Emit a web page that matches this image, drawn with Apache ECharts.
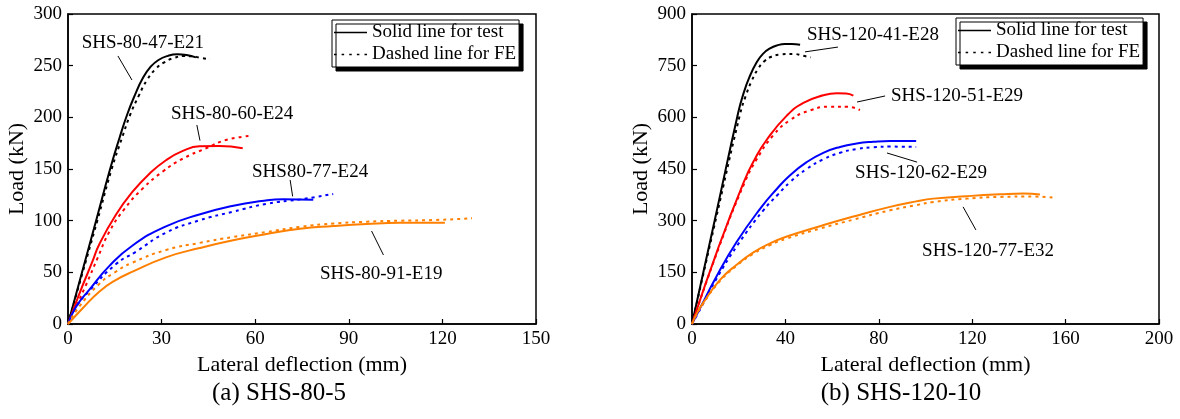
<!DOCTYPE html>
<html>
<head>
<meta charset="utf-8">
<script src="https://cdn.jsdelivr.net/npm/echarts@6/dist/echarts.min.js"></script>
<style>
html,body{margin:0;padding:0;background:#fff;}
#chart{width:1180px;height:419px;}
</style>
</head>
<body>
<div id="chart"></div>
<script>
// ---------- Data: (a) SHS-80-5 ----------
const xTicksA = [0, 30, 60, 90, 120, 150];
const yTicksA = [0, 50, 100, 150, 200, 250, 300];
const a47Test = [[0,0],[4.5,50],[9,100],[13.5,150],[16.5,180],[19,203],[21.5,222],[24,238],[26.5,249],[29,255.5],[32,259.5],[35,261],[38,260.3],[41,258]];
const a47FE   = [[0,0],[4.7,50],[9.4,100],[14,150],[17.3,180],[20,203],[22.7,221],[25.3,236],[28,246.5],[31,253.5],[34,257.5],[37,259.3],[40,259],[42.5,257.5],[45.5,256.4]];
const a60Test = [[0,0],[3.6,29],[7.9,61],[10,77],[15.4,106],[20.7,128],[26.1,145.5],[31.4,158.5],[36.8,167.5],[42.1,172],[48.5,172.3],[56,170]];
const a60FE   = [[0,0],[5.8,38],[9.5,64],[13.2,89],[18,111],[23.9,131],[30.3,147.4],[36.8,160],[44.2,170],[50.6,178],[58.1,181.9]];
const a77Test = [[0,0],[2.6,16.8],[6.8,33],[13.2,56],[20.7,76],[31.4,94.5],[42.1,106],[53,114.5],[62,119],[69,120.8],[78.6,120.3]];
const a77FE   = [[0,0],[2.6,16.5],[6.8,32],[15.4,58],[21.8,70],[31.4,88.4],[42.1,100.3],[52.9,108.7],[63.6,116.3],[74.4,120.6],[85,125.8]];
const a91Test = [[0,0],[4.7,15.2],[10,31.3],[15,42],[20.7,50.6],[31.4,64.5],[42.2,73.5],[52.9,81],[63.6,87],[74.4,92.2],[85,94.8],[95.7,96.8],[106.4,98],[120.8,98.1]];
const a91FE   = [[0,0],[3.6,16.8],[10,38.7],[15,50],[20.7,59.4],[31.4,71.6],[42.2,78.5],[52.9,84.2],[63.6,89],[74.4,94],[85,97.2],[95.7,99],[106.4,100],[117.1,100.6],[129.5,102.3]];

// ---------- Data: (b) SHS-120-10 ----------
const xTicksB = [0, 40, 80, 120, 160, 200];
const yTicksB = [0, 150, 300, 450, 600, 750, 900];
const b41Test = [[0,0],[9.85,305],[19.8,614],[22,668],[24.5,715],[27.7,760],[30.5,785],[33.4,800],[36.5,809],[39.8,813],[42.7,813],[46.3,811]];
const b41FE   = [[0,0],[10.2,304],[20.6,610],[23,662],[25.5,705],[28.4,742],[31,763],[34,776],[37.7,782],[43.4,784],[47.5,779],[50.8,774]];
const b51Test = [[0,0],[11.3,222],[22.3,414],[27,480],[32,535],[40.6,605],[47.7,642],[56.2,664],[62,670],[66,669],[69.1,663]];
const b51FE   = [[0,0],[11.5,222],[22.5,410],[27.7,478],[34.8,548],[42,592],[50.5,620],[59.1,631],[66.3,631],[71.9,621]];
const b62Test = [[0,0],[4.15,55],[9.85,130],[19.1,238],[29.8,340],[36.3,392],[42,432],[49.1,470],[56.2,497],[63.4,514],[70.5,524],[77.6,529],[84.8,531.5],[96,531]];
const b62FE   = [[0,0],[4.3,53],[10.2,128],[19.6,230],[30.3,328],[36.8,376],[42,412],[49.1,450],[56.2,478],[63.4,497],[70.5,508],[77.6,513],[84.8,515],[96,514]];
const b77Test = [[0,0],[2,30],[4.85,62],[12,128],[19.1,172],[26.3,208],[33.4,234],[40.6,254],[54.8,284],[69.1,312],[84.8,340],[96,356],[103.3,364],[117.6,371],[131.9,376.5],[141.9,379],[149,376]];
const b77FE   = [[0,0],[2,28],[4.85,60],[12,125],[19.1,169],[26.3,204],[33.4,229],[40.6,248],[54.8,277],[69.1,303],[84.8,330],[96,345],[103.3,354],[117.6,364],[131.9,369],[146.2,370],[154.7,367]];

// ---------- Annotations (data coordinates) ----------
const annA = [
  {text:'SHS-80-47-E21', at:[24.0,271.9], from:[16.0,259.4], to:[20.5,236.1], s:'a47'},
  {text:'SHS-80-60-E24', at:[52.6,203.2], from:[41.3,192.6], to:[42.3,177.5], s:'a60'},
  {text:'SHS80-77-E24',  at:[77.6,147.1], from:[71.2,139.4], to:[72.0,123.5], s:'a77'},
  {text:'SHS-80-91-E19', at:[100.4,48.4], from:[101.1,66.8], to:[97.3,90.0], s:'a91'}
];
const annB = [
  {text:'SHS-120-41-E28', at:[77.5,839], from:[62.5,804], to:[48.4,790], s:'b41'},
  {text:'SHS-120-51-E29', at:[113.5,662], from:[82.7,662], to:[70.7,644.5], s:'b51'},
  {text:'SHS-120-62-E29', at:[98.1,438], from:[96.4,470], to:[83.5,496.5], s:'b62'},
  {text:'SHS-120-77-E32', at:[126.8,212], from:[121.6,273], to:[116.1,340], s:'b77'}
];

const legendNames = ['Solid line for test', 'Dashed line for FE'];
const captions = ['(a) SHS-80-5', '(b) SHS-120-10'];

const SERIF = '"Liberation Serif", "Times New Roman", serif';
const DASH = [3, 4];
const ORANGE = '#ff8000';
const ICON_SOLID = 'path://M0,0H33V1.5H0Z';
const ICON_DOT = 'path://M0,0h2.5v1.5h-2.5z M7.6,0h2.5v1.5h-2.5z M15.2,0h2.5v1.5h-2.5z M22.8,0h2.5v1.5h-2.5z M30.4,0h2.5v1.5h-2.5z';

function axisCommon(min, max, interval, gridIndex, isX) {
  const o = {
    type: 'value', gridIndex, min, max, interval,
    axisLine: {show: true, onZero: false, lineStyle: {color: '#000', width: 1.5}},
    axisTick: {show: true, inside: true, length: 5, lineStyle: {color: '#000', width: 1.2}},
    axisLabel: {color: '#000', fontFamily: SERIF, fontSize: 19, margin: 6},
    splitLine: {show: false},
    nameLocation: 'middle',
    nameTextStyle: {color: '#000', fontFamily: SERIF, fontSize: 22}
  };
  if (isX) { o.name = 'Lateral deflection (mm)'; o.nameGap = 25; }
  else { o.name = 'Load (kN)'; o.nameGap = 40; }
  return o;
}

function curve(name, data, color, dashed, gi) {
  return {
    type: 'line', name, data, xAxisIndex: gi, yAxisIndex: gi,
    symbol: 'none', showSymbol: false, smooth: 0.5, silent: true,
    lineStyle: {color, width: 2, type: dashed ? DASH : 'solid'},
    z: 3
  };
}

function annSeries(list, gi) {
  return list.map(a => ({
    type: 'line', name: 'ann-' + a.s, data: [], xAxisIndex: gi, yAxisIndex: gi,
    symbol: 'none', silent: true,
    markLine: {
      silent: true, symbol: ['none', 'arrow'], symbolSize: [0, 9], animation: false,
      lineStyle: {color: '#000', width: 1, type: 'solid'},
      label: {show: false},
      data: [[{coord: a.from}, {coord: a.to}]]
    },
    markPoint: {
      silent: true, symbol: 'circle', symbolSize: 1, animation: false,
      itemStyle: {color: 'rgba(0,0,0,0)'},
      label: {show: true, position: 'inside', color: '#000', fontFamily: SERIF, fontSize: 19, formatter: a.text},
      data: [{coord: a.at}]
    }
  }));
}

function legendBox(left, top) {
  return {
    data: [{name: legendNames[0], icon: ICON_SOLID}, {name: legendNames[1], icon: ICON_DOT}],
    orient: 'vertical', left, top,
    itemWidth: 33, itemHeight: 14, itemGap: 3,
    padding: [3, 3, 3, 2],
    backgroundColor: '#fff', borderColor: '#000', borderWidth: 1, borderRadius: 0,
    shadowColor: '#000', shadowOffsetX: 4, shadowOffsetY: 4, shadowBlur: 0,
    selectedMode: false,
    itemStyle: {color: '#000', borderWidth: 0},
    textStyle: {color: '#000', fontFamily: SERIF, fontSize: 19}
  };
}

const option = {
  animation: false,
  backgroundColor: '#fff',
  grid: [
    {left: 68, top: 14, width: 468, height: 310, show: true, borderColor: '#000', borderWidth: 1.5, backgroundColor: 'transparent'},
    {left: 692, top: 14, width: 467, height: 310, show: true, borderColor: '#000', borderWidth: 1.5, backgroundColor: 'transparent'}
  ],
  xAxis: [axisCommon(xTicksA[0], xTicksA[xTicksA.length-1], xTicksA[1]-xTicksA[0], 0, true),
          axisCommon(xTicksB[0], xTicksB[xTicksB.length-1], xTicksB[1]-xTicksB[0], 1, true)],
  yAxis: [axisCommon(yTicksA[0], yTicksA[yTicksA.length-1], yTicksA[1]-yTicksA[0], 0, false),
          axisCommon(yTicksB[0], yTicksB[yTicksB.length-1], yTicksB[1]-yTicksB[0], 1, false)],
  legend: [legendBox(332, 20), legendBox(956, 18)],
  graphic: [
    {type: 'text', x: 279, y: 393, style: {text: captions[0], fill: '#000', font: '25px ' + SERIF, textAlign: 'center', textVerticalAlign: 'middle'}},
    {type: 'text', x: 901, y: 393, style: {text: captions[1], fill: '#000', font: '25px ' + SERIF, textAlign: 'center', textVerticalAlign: 'middle'}}
  ],
  series: [
    {type: 'line', name: legendNames[0], data: [], xAxisIndex: 0, yAxisIndex: 0, symbol: 'none', lineStyle: {color: '#000', width: 1.5, type: 'solid'}, itemStyle: {color: '#000'}},
    {type: 'line', name: legendNames[1], data: [], xAxisIndex: 0, yAxisIndex: 0, symbol: 'none', lineStyle: {color: '#000', width: 1.5, type: DASH}, itemStyle: {color: '#000'}},
    curve('a47t', a47Test, '#000', false, 0), curve('a47f', a47FE, '#000', true, 0),
    curve('a60t', a60Test, '#ff0000', false, 0), curve('a60f', a60FE, '#ff0000', true, 0),
    curve('a77t', a77Test, '#0000ff', false, 0), curve('a77f', a77FE, '#0000ff', true, 0),
    curve('a91t', a91Test, ORANGE, false, 0), curve('a91f', a91FE, ORANGE, true, 0),
    curve('b41t', b41Test, '#000', false, 1), curve('b41f', b41FE, '#000', true, 1),
    curve('b51t', b51Test, '#ff0000', false, 1), curve('b51f', b51FE, '#ff0000', true, 1),
    curve('b62t', b62Test, '#0000ff', false, 1), curve('b62f', b62FE, '#0000ff', true, 1),
    curve('b77t', b77Test, ORANGE, false, 1), curve('b77f', b77FE, ORANGE, true, 1),
    ...annSeries(annA, 0), ...annSeries(annB, 1)
  ]
};

const chart = echarts.init(document.getElementById('chart'), null, {renderer: 'canvas'});
chart.setOption(option);
</script>
</body>
</html>
